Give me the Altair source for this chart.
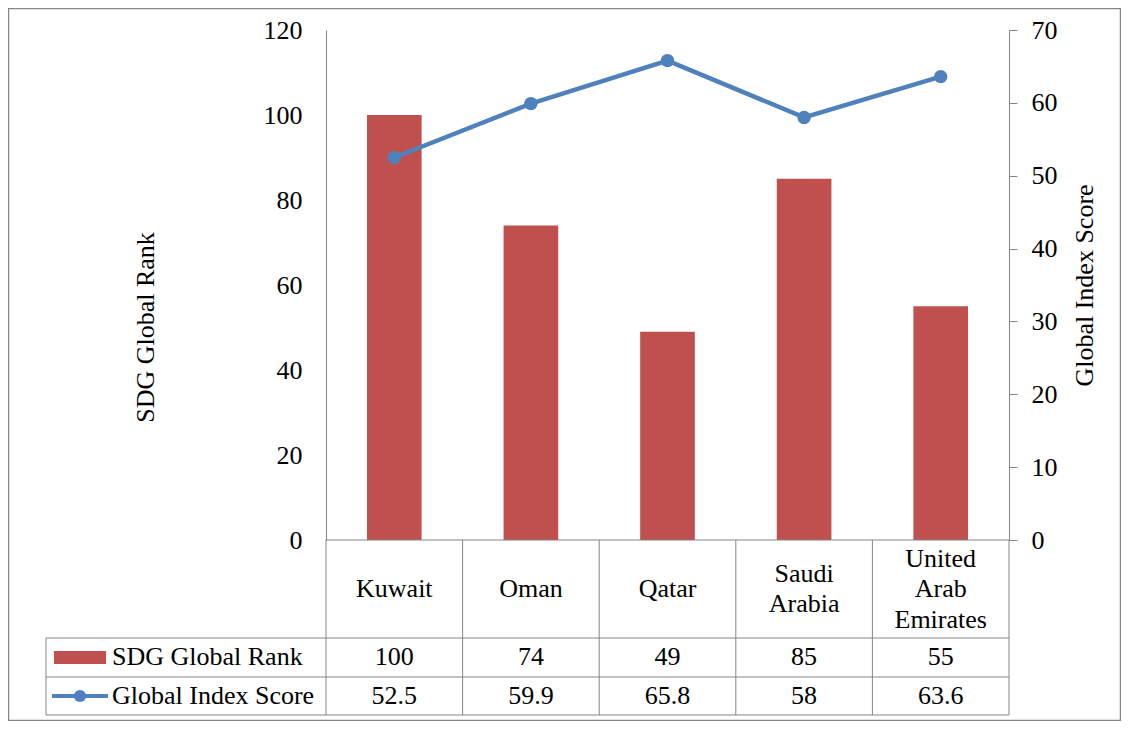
import altair as alt
import pandas as pd

# ---- data ----
countries = ["Kuwait", "Oman", "Qatar", "Saudi Arabia", "United Arab Emirates"]
country_labels = ["Kuwait", "Oman", "Qatar", "Saudi\nArabia", "United\nArab\nEmirates"]
sdg_rank = [100, 74, 49, 85, 55]
index_score = [52.5, 59.9, 65.8, 58, 63.6]
rank_ticks = [0, 20, 40, 60, 80, 100, 120]
score_ticks = [0, 10, 20, 30, 40, 50, 60, 70]
series_names = ["SDG Global Rank", "Global Index Score"]

BAR = "#C0504D"
LINE = "#4F81BD"
GRAY = "#868686"
FONT = "Liberation Serif"
FS = 26
LH = 30.5

W, H = 683, 510
ROW1, ROW2, ROW3 = 608, 647, 685   # table row borders (plot coords)
LEFTCOL = -280
CAT_MID = 559

df = pd.DataFrame({
    "country": countries,
    "label": country_labels,
    "nlines": [s.count("\n") + 1 for s in country_labels],
    "rank": sdg_rank,
    "score": index_score,
    "rank_txt": [str(v) for v in sdg_rank],
    "score_txt": [f"{v:g}" for v in index_score],
})
one = pd.DataFrame({"a": [0]})

xenc = alt.X("country:N", sort=countries,
             scale=alt.Scale(paddingInner=0.6, paddingOuter=0.3), axis=None)

bars = alt.Chart(df).mark_bar(color=BAR).encode(
    x=xenc,
    y=alt.Y("rank:Q", scale=alt.Scale(domain=[0, 120], nice=False),
            axis=alt.Axis(title=series_names[0], values=rank_ticks, ticks=False, tickSize=0,
                          labelPadding=24, grid=False, domainColor=GRAY,
                          titleAngle=270, titleX=-173, titleY=297,
                          titleBaseline="alphabetic", titleAlign="center")),
)

line = alt.Chart(df).mark_line(color=LINE, strokeWidth=4.5).encode(
    x=xenc,
    y=alt.Y("score:Q", scale=alt.Scale(domain=[0, 70], nice=False),
            axis=alt.Axis(title=series_names[1], orient="right", values=score_ticks,
                          tickSize=8, tickColor=GRAY, labelPadding=14, grid=False,
                          domainColor=GRAY, titleAngle=270, titleX=83, titleY=255,
                          titleBaseline="alphabetic", titleAlign="center")),
)
points = alt.Chart(df).mark_circle(color=LINE, size=180, opacity=1).encode(
    x=xenc, y=alt.Y("score:Q")
)
line_layer = alt.layer(line, points)

# table text: category labels (multi-line blocks centred in the row)
cat_layers = []
for n in sorted(set(df["nlines"])):
    cat_layers.append(
        alt.Chart(df).transform_filter(alt.datum.nlines == n).mark_text(
            font=FONT, fontSize=FS, lineBreak="\n", lineHeight=LH,
            baseline="middle", color="black").encode(
            x=xenc, y=alt.value(CAT_MID - (n - 1) * LH / 2), text="label:N"))
rank_text = alt.Chart(df).mark_text(font=FONT, fontSize=FS, baseline="middle", color="black").encode(
    x=xenc, y=alt.value(627), text="rank_txt:N")
score_text = alt.Chart(df).mark_text(font=FONT, fontSize=FS, baseline="middle", color="black").encode(
    x=xenc, y=alt.value(666), text="score_txt:N")

# table grid
rules = []
hlines = [(0, W, H), (LEFTCOL, W, ROW1), (LEFTCOL, W, ROW2), (LEFTCOL, W, ROW3)]
for x1, x2, yy in hlines:
    rules.append(alt.Chart(one).mark_rule(color=GRAY, strokeWidth=1).encode(
        x=alt.value(x1), x2=alt.value(x2), y=alt.value(yy)))
step = W / len(countries)
for k in range(len(countries) + 1):
    rules.append(alt.Chart(one).mark_rule(color=GRAY, strokeWidth=1).encode(
        x=alt.value(k * step), y=alt.value(H), y2=alt.value(ROW3)))
rules.append(alt.Chart(one).mark_rule(color=GRAY, strokeWidth=1).encode(
    x=alt.value(LEFTCOL), y=alt.value(ROW1), y2=alt.value(ROW3)))

# legend inside table
leg_rect = alt.Chart(one).mark_rect(color=BAR).encode(
    x=alt.value(-272), x2=alt.value(-220), y=alt.value(621), y2=alt.value(634))
leg_line = alt.Chart(one).mark_rule(color=LINE, strokeWidth=4).encode(
    x=alt.value(-274), x2=alt.value(-218), y=alt.value(666))
leg_pt = alt.Chart(one).mark_circle(color=LINE, size=150, opacity=1).encode(
    x=alt.value(-246), y=alt.value(666))
leg_t1 = alt.Chart(one).mark_text(font=FONT, fontSize=FS, align="left", baseline="middle",
                                  color="black").encode(
    x=alt.value(-214), y=alt.value(627), text=alt.value(series_names[0]))
leg_t2 = alt.Chart(one).mark_text(font=FONT, fontSize=FS, align="left", baseline="middle",
                                  color="black").encode(
    x=alt.value(-214), y=alt.value(666), text=alt.value(series_names[1]))

border = alt.Chart(one).mark_rect(filled=False, stroke=GRAY, strokeWidth=1.5).encode(
    x=alt.value(-317.5), x2=alt.value(794.5), y=alt.value(-21.5), y2=alt.value(690.5))

chart = alt.layer(
    border, bars, *rules, *cat_layers, rank_text, score_text,
    leg_rect, leg_line, leg_pt, leg_t1, leg_t2, line_layer
).resolve_scale(y="independent").properties(
    width=W, height=H,
    background="white",
    autosize=alt.AutoSizeParams(type="none"),
    padding={"left": 318, "top": 22, "right": 112, "bottom": 181},
).configure_view(stroke=None).configure_axis(
    labelFont=FONT, labelFontSize=FS, labelColor="black",
    titleFont=FONT, titleFontSize=FS, titleFontWeight="normal", titleColor="black",
    domainWidth=1,
)

chart.save("out.html", embed_options={"renderer": "svg", "actions": False})
